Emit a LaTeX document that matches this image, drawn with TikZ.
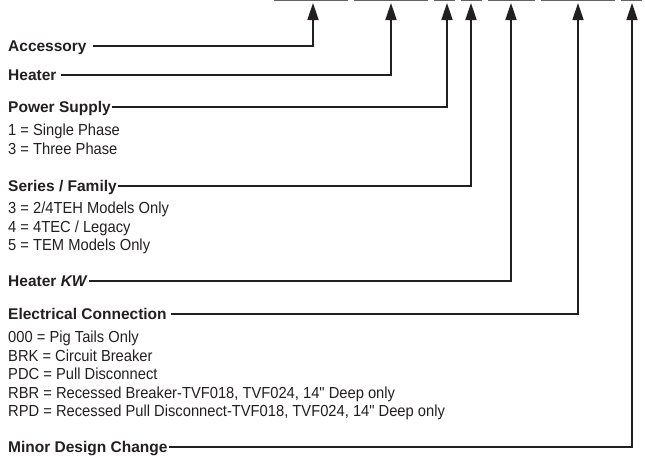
\documentclass[tikz,border=0pt]{standalone}
\usepackage{fontspec}
\usetikzlibrary{arrows.meta}
\newfontfamily\headfam{Liberation Sans}
\newfontfamily\descfam[FakeStretch=0.92]{Liberation Sans}
\definecolor{ink}{HTML}{231F20}
\tikzset{
  head/.style={font=\headfam\bfseries\fontsize{15.5}{18}\selectfont, anchor=west, inner sep=0pt, text height=11pt, text depth=0pt, text=ink},
  desc/.style={font=\descfam\fontsize{16}{18.5}\selectfont, anchor=west, inner sep=0pt, text height=11.5pt, text depth=0pt, text=ink},
  conn/.style={draw=ink, line width=1.6pt, -{Triangle[width=11pt,length=17pt]}},
  blank/.style={draw=ink!70, line width=1pt}
}
\begin{document}
\begin{tikzpicture}[x=1pt,y=-1pt]
    \useasboundingbox (0,0) rectangle (645,455);
    % blanks of the model number
    \foreach \a/\b in {274/348,354/428,434/455,461/482,488/535,541/615,621/642}
        \draw[blank] (\a,0.5) -- (\b,0.5);
    % arrow tips
    \coordinate (t1) at (313,3);
    \coordinate (t2) at (391,3);
    \coordinate (t3) at (447,3);
    \coordinate (t4) at (471,3);
    \coordinate (t5) at (511,3);
    \coordinate (t6) at (578,3);
    \coordinate (t7) at (632,3);
    % fields
    \node[head] (acc) at (8,46) {Accessory};
    \node[head] (heat) at (8,75) {Heater};
    \node[head] (pow) at (8,107) {Power Supply};
    \node[head] (ser) at (8,186) {Series / Family};
    \node[head] (kw) at (8,281) {Heater \textit{KW}};
    \node[head] (elec) at (8,314) {Electrical Connection};
    \node[head] (minor) at (8,447) {Minor Design Change};
    % options
    \node[desc] (pow1) at (8,130) {1 = Single Phase};
    \node[desc] (pow2) at (8,149) {3 = Three Phase};
    \node[desc] (ser1) at (8,208) {3 = 2/4TEH Models Only};
    \node[desc] (ser2) at (8,227) {4 = 4TEC / Legacy};
    \node[desc] (ser3) at (8,245) {5 = TEM Models Only};
    \node[desc] (elec1) at (8,337) {000 = Pig Tails Only};
    \node[desc] (elec2) at (8,355.5) {BRK = Circuit Breaker};
    \node[desc] (elec3) at (8,374) {PDC = Pull Disconnect};
    \node[desc] (elec4) at (8,392.5) {RBR = Recessed Breaker-TVF018, TVF024, 14" Deep only};
    \node[desc] (elec5) at (8,411) {RPD = Recessed Pull Disconnect-TVF018, TVF024, 14" Deep only};
    % leaders
    \draw[conn] ([xshift=6pt]acc.east) -| (t1);
    \draw[conn] ([xshift=4pt]heat.east) -| (t2);
    \draw[conn] ([xshift=1pt]pow.east) -| (t3);
    \draw[conn] ([xshift=1pt]ser.east) -| (t4);
    \draw[conn] ([xshift=1pt]kw.east) -| (t5);
    \draw[conn] ([xshift=4pt]elec.east) -| (t6);
    \draw[conn] ([xshift=1pt]minor.east) -| (t7);
\end{tikzpicture}
\end{document}
